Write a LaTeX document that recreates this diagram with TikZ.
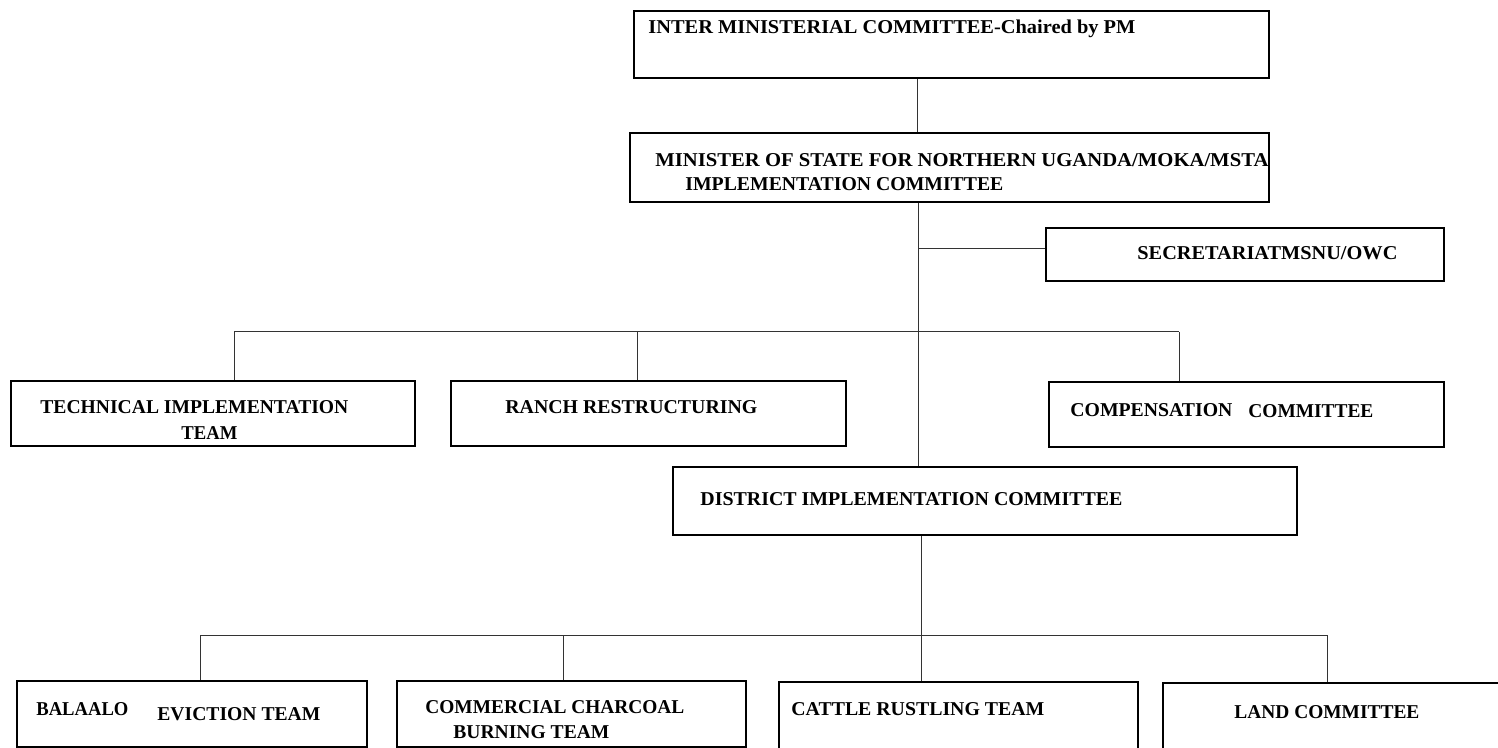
\documentclass[tikz,border=0pt]{standalone}
\usepackage{fontspec}
\usepackage{graphicx}
\setmainfont{Liberation Serif}
\newcommand\fw[2]{\resizebox{\dimexpr #1pt/2\relax}{\height}{#2}}
\tikzset{
  boxnode/.style={draw=black, line width=0.9pt, inner sep=0pt, anchor=north west},
  lbl/.style={anchor=base west, inner sep=0pt, font=\fontsize{9.8}{12}\selectfont\bfseries},
  conn/.style={draw=black!80, line width=0.5pt}
}
\newcommand\bx[5]{\node[boxnode, minimum width=#4*0.5pt, minimum height=#5*0.5pt] (#1) at (#2,#3) {};}
\newcommand\tx[5]{\node[lbl] (#1) at (#2,#3+1) {\fw{#4}{#5}};}
\begin{document}
\begin{tikzpicture}[x=0.5pt,y=-0.5pt]
\useasboundingbox (0,0) rectangle (1498,748);
% boxes
\bx{imc}{633}{10}{635}{67}
\bx{msn}{629}{132}{639}{69}
\bx{sec}{1045}{227}{398}{53}
\bx{tit}{10}{380}{404}{65}
\bx{rr}{450}{380}{395}{65}
\bx{cc}{1048}{381}{395}{65}
\bx{dic}{672}{466}{624}{68}
\bx{bal}{16}{680}{350}{66}
\bx{ccb}{396}{680}{349}{66}
\bx{crt}{778}{681}{359}{75}
\bx{lc}{1162}{682}{345}{75}
% texts
\tx{t1}{648}{33}{487}{INTER MINISTERIAL COMMITTEE-Chaired by PM}
\tx{t2a}{655}{166}{613}{MINISTER OF STATE FOR NORTHERN UGANDA/MOKA/MSTA}
\tx{t2b}{685}{190}{318}{IMPLEMENTATION COMMITTEE}
\tx{t3}{1137}{259}{260}{SECRETARIATMSNU/OWC}
\tx{t4a}{40}{413}{308}{TECHNICAL IMPLEMENTATION}
\tx{t4b}{181}{438}{56}{TEAM}
\tx{t5}{505}{413}{252}{RANCH RESTRUCTURING}
\tx{t6a}{1070}{415}{162}{COMPENSATION}
\tx{t6b}{1248}{416}{125}{COMMITTEE}
\tx{t7}{700}{504}{422}{DISTRICT IMPLEMENTATION COMMITTEE}
\tx{t8a}{36}{714}{92}{BALAALO}
\tx{t8b}{157}{719}{163}{EVICTION TEAM}
\tx{t9a}{425}{712}{259}{COMMERCIAL CHARCOAL}
\tx{t9b}{453}{737}{156}{BURNING TEAM}
\tx{t10}{791}{714}{253}{CATTLE RUSTLING TEAM}
\tx{t11}{1234}{717}{185}{LAND COMMITTEE}
% junction coordinates
\coordinate (a) at (917,0);
\coordinate (m) at (918,249);
\coordinate (h1) at (918,332);
\coordinate (h1l) at (234,332);
\coordinate (h1c) at (637,332);
\coordinate (h1r) at (1179,332);
\coordinate (h2) at (921,635);
\coordinate (h2a) at (200,635);
\coordinate (h2b) at (563,635);
\coordinate (h2d) at (1327,635);
% connectors
\draw[conn] (imc.south -| a) -- (msn.north -| a);
\draw[conn] (msn.south -| m) -- (dic.north -| m);
\draw[conn] (m) -- (sec.west |- m);
\draw[conn] (h1l) -- (h1r);
\draw[conn] (h1l) -- (tit.north -| h1l);
\draw[conn] (h1c) -- (rr.north -| h1c);
\draw[conn] (h1r) -- (cc.north -| h1r);
\draw[conn] (dic.south -| h2) -- (crt.north -| h2);
\draw[conn] (h2a) -- (h2d);
\draw[conn] (h2a) -- (bal.north -| h2a);
\draw[conn] (h2b) -- (ccb.north -| h2b);
\draw[conn] (h2d) -- (lc.north -| h2d);
\end{tikzpicture}
\end{document}
